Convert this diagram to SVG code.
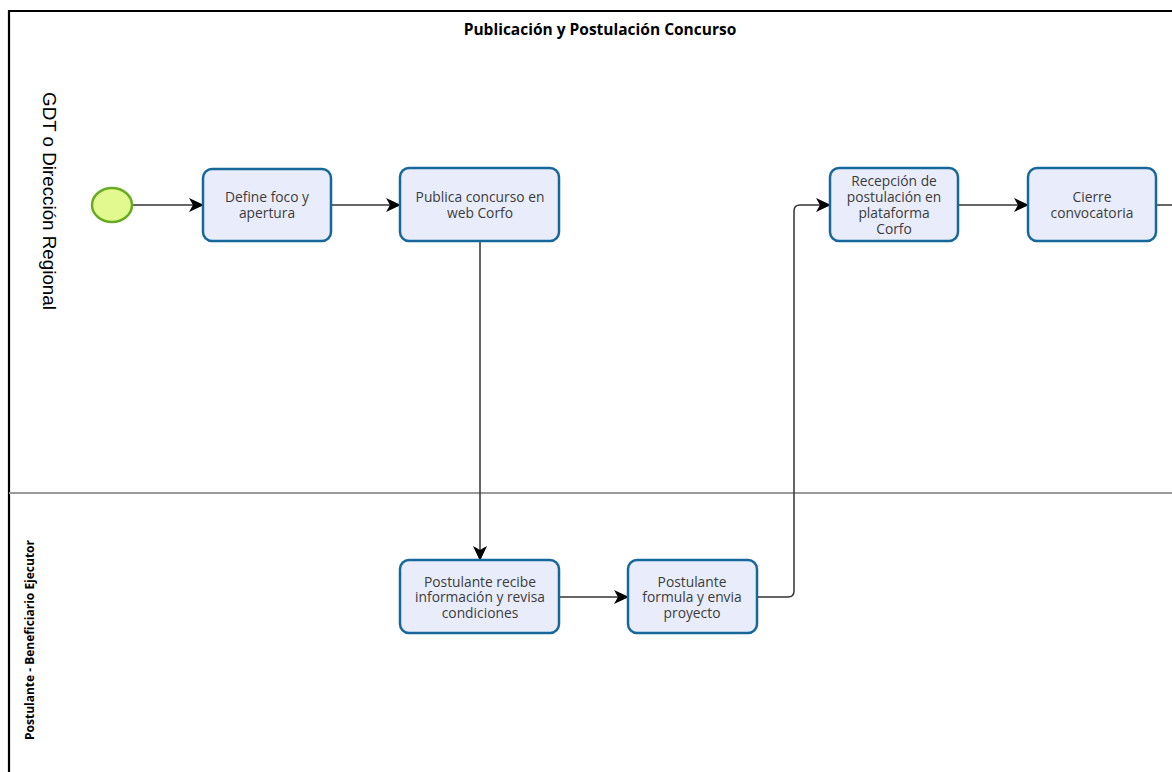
<svg xmlns="http://www.w3.org/2000/svg" width="1172" height="772" viewBox="0 0 1172 772">
  <style>
    .frame { fill: none; stroke: #000; stroke-width: 2.2; }
    .divider { stroke: #9a9a9a; stroke-width: 2; }
    .task { fill: #e9edfb; stroke: #16679a; stroke-width: 2.5; }
    .label { font-family: "Open Sans", "Liberation Sans", sans-serif; font-size: 13.8px; fill: #3c3c3c; text-anchor: middle; }
    .title { font-family: "Open Sans", "Liberation Sans", sans-serif; font-size: 15.5px; font-weight: bold; fill: #000; text-anchor: middle; }
    .lane1 { font-family: "Liberation Sans", Arial, sans-serif; font-size: 18.8px; fill: #000; text-anchor: middle; }
    .lane2 { font-family: "Open Sans", "Liberation Sans", sans-serif; font-size: 12px; font-weight: bold; fill: #000; text-anchor: middle; }
    .flow { fill: none; stroke: #333; stroke-width: 1.5; marker-end: url(#arrow); }
  </style>
  <defs>
    <marker id="arrow" markerWidth="15" markerHeight="14" refX="14" refY="7" orient="auto" markerUnits="userSpaceOnUse">
      <path d="M0,0 L15,7 L0,14 L4,7 Z" fill="#000"/>
    </marker>
  </defs>

  <rect width="1172" height="772" fill="#fff"/>

  <!-- pool frame and lanes -->
  <g id="pool">
    <path class="frame" d="M9,772 L9,11 L1172,11"/>
    <line class="divider" x1="9" y1="493" x2="1172" y2="493"/>
    <text class="title" x="600" y="35">Publicación y Postulación Concurso</text>
    <text class="lane1" transform="translate(43,201) rotate(90)">GDT o Dirección Regional</text>
    <text class="lane2" transform="translate(34,640) rotate(-90)">Postulante - Beneficiario Ejecutor</text>
  </g>

  <!-- sequence flows -->
  <g id="connectors">
    <path class="flow" d="M132,205 L203,205"/>
    <path class="flow" d="M331,205 L400,205"/>
    <path class="flow" d="M480,241 L480,560"/>
    <path class="flow" d="M559,597 L628,597"/>
    <path class="flow" d="M757,597 L788,597 Q794,597 794,591 L794,211 Q794,205 800,205 L830,205"/>
    <path class="flow" d="M958,205 L1028,205"/>
    <path fill="none" stroke="#333" stroke-width="1.5" d="M1156,205 L1172,205"/>
  </g>

  <g id="start">
    <ellipse cx="112" cy="205" rx="20" ry="17" fill="#e2f98f" stroke="#6aab24" stroke-width="2.5"/>
  </g>

  <g id="define">
    <rect class="task" x="203" y="169" width="128" height="72" rx="9"/>
    <text class="label" x="267" y="202">Define foco y</text>
    <text class="label" x="267" y="218">apertura</text>
  </g>

  <g id="publica">
    <rect class="task" x="400" y="168" width="159" height="73" rx="9"/>
    <text class="label" x="480" y="202">Publica concurso en</text>
    <text class="label" x="480" y="218">web Corfo</text>
  </g>

  <g id="recepcion">
    <rect class="task" x="830" y="168" width="128" height="73" rx="9"/>
    <text class="label" x="894" y="186">Recepción de</text>
    <text class="label" x="894" y="202">postulación en</text>
    <text class="label" x="894" y="218">plataforma</text>
    <text class="label" x="894" y="234">Corfo</text>
  </g>

  <g id="cierre">
    <rect class="task" x="1028" y="168" width="128" height="73" rx="9"/>
    <text class="label" x="1092" y="202">Cierre</text>
    <text class="label" x="1092" y="218">convocatoria</text>
  </g>

  <g id="recibe">
    <rect class="task" x="400" y="560" width="159" height="73" rx="9"/>
    <text class="label" x="480" y="587">Postulante recibe</text>
    <text class="label" x="480" y="602">información y revisa</text>
    <text class="label" x="480" y="618">condiciones</text>
  </g>

  <g id="formula">
    <rect class="task" x="628" y="560" width="129" height="73" rx="9"/>
    <text class="label" x="692" y="587">Postulante</text>
    <text class="label" x="692" y="602">formula y envia</text>
    <text class="label" x="692" y="618">proyecto</text>
  </g>
</svg>
